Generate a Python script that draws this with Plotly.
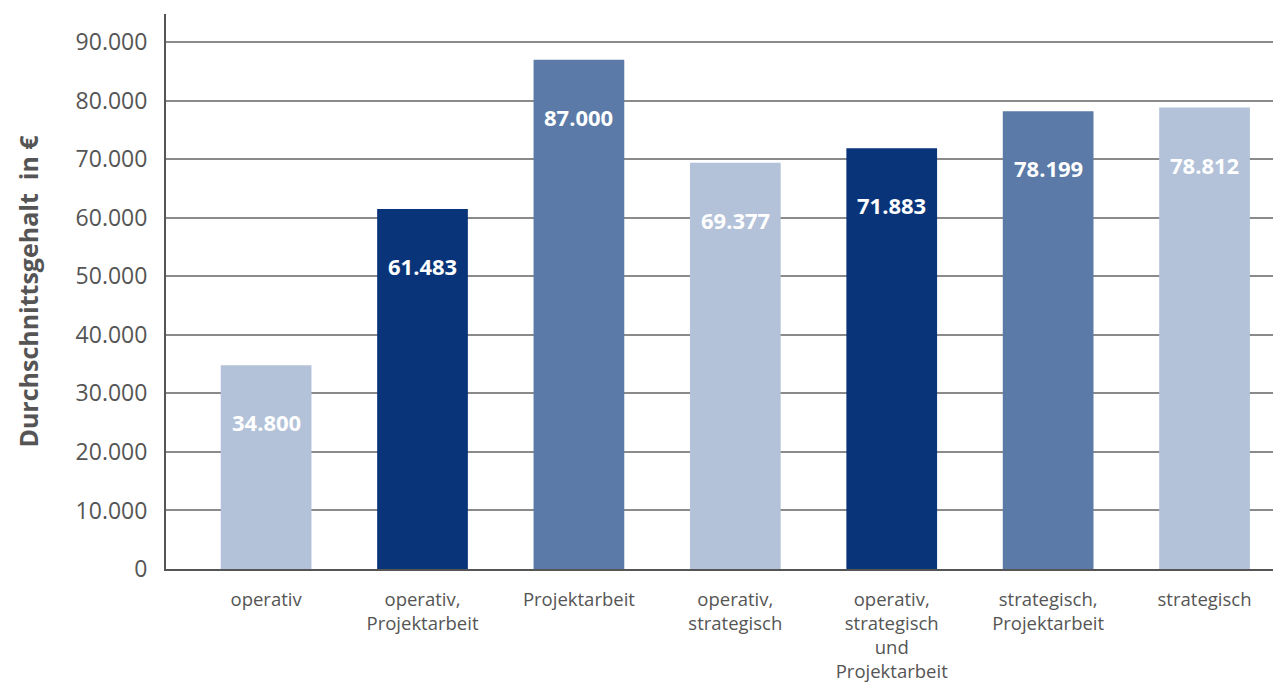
import plotly.graph_objects as go

categories = ["operativ", "operativ,<br>Projektarbeit", "Projektarbeit", "operativ,<br>strategisch",
              "operativ,<br>strategisch<br>und<br>Projektarbeit", "strategisch,<br>Projektarbeit", "strategisch"]
values = [34800, 61483, 87000, 69377, 71883, 78199, 78812]
labels = ["34.800", "61.483", "87.000", "69.377", "71.883", "78.199", "78.812"]
colors = ["#B3C2D9", "#09347A", "#5B7AA8", "#B3C2D9", "#09347A", "#5B7AA8", "#B3C2D9"]
tick_vals = [0, 10000, 20000, 30000, 40000, 50000, 60000, 70000, 80000, 90000]
tick_text = ["0", "10.000", "20.000", "30.000", "40.000", "50.000", "60.000", "70.000", "80.000", "90.000"]

x_idx = list(range(len(categories)))

fig = go.Figure()
fig.add_trace(go.Bar(x=x_idx, y=values, marker=dict(color=colors, line=dict(width=0)), width=0.58,
                     hoverinfo="skip"))

for i, (v, t) in enumerate(zip(values, labels)):
    fig.add_annotation(x=i, y=v, text=t, showarrow=False, yshift=-57,
                       font=dict(family="Open Sans", size=22, color="white", weight="bold"))

fig.update_layout(
    width=1281, height=684,
    margin=dict(l=158, r=0, t=6, b=123),
    plot_bgcolor="white", paper_bgcolor="white",
    showlegend=False,
    xaxis=dict(tickmode="array", tickvals=x_idx, ticktext=categories, range=[-0.64, 6.54],
               showgrid=False, showline=True, linecolor="#555555", linewidth=2,
               ticks="", tickfont=dict(family="Open Sans", size=18.5, color="#555555"),
               zeroline=False, automargin=False, ticklabelstandoff=13),
    yaxis=dict(tickmode="array", tickvals=tick_vals, ticktext=tick_text, range=[0, 94800],
               showgrid=True, gridcolor="#8a8a8a", gridwidth=1.5,
               showline=True, linecolor="#555555", linewidth=2, zeroline=False,
               ticks="", ticklen=0, ticklabelstandoff=12,
               tickfont=dict(family="Open Sans", size=23, color="#555555"),
               automargin=False,
               title=dict(text="Durchschnittsgehalt  in €", standoff=30,
                          font=dict(family="Open Sans", size=25, color="#555555", weight="bold"))),
)

fig.write_html("out.html")
